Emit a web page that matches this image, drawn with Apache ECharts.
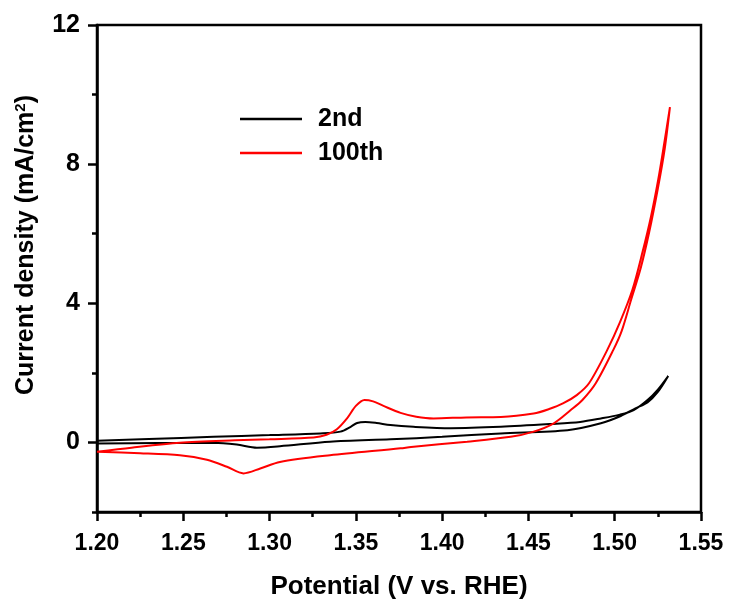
<!DOCTYPE html>
<html>
<head>
<meta charset="utf-8">
<script src="https://cdn.jsdelivr.net/npm/echarts@6/dist/echarts.min.js"></script>
<style>
html,body{margin:0;padding:0;background:#fff;}
#c{width:733px;height:601px;}
</style>
</head>
<body>
<div id="c"></div>
<script>
// ---- data ----
const seriesNames = ['2nd', '100th'];
// 2nd cycle: potential (V vs. RHE) and current density (mA/cm2), forward then return sweep
const pot2nd = [1.200,1.230,1.2675,1.300,1.3294,1.341,1.347,1.3507,1.3555,1.362,1.370,1.3834,1.405,1.434,1.463,1.480,1.492,1.503,1.511,1.519,1.525,1.531,
                1.525,1.519,1.512,1.5035,1.492,1.4726,1.434,1.400,1.370,1.335,1.306,1.2927,1.281,1.2675,1.235,1.200];
const cur2nd = [0.05,0.10,0.16,0.21,0.26,0.31,0.45,0.56,0.59,0.56,0.50,0.45,0.41,0.45,0.53,0.59,0.69,0.80,0.93,1.22,1.52,1.91,
                1.45,1.15,0.98,0.76,0.55,0.35,0.26,0.16,0.09,0.02,-0.11,-0.15,-0.06,-0.01,-0.02,-0.03];
// 100th cycle
const pot100th = [1.200,1.220,1.248,1.280,1.300,1.3255,1.333,1.339,1.345,1.350,1.355,1.360,1.366,1.3759,1.385,1.395,1.414,1.434,1.453,1.462,1.470,1.478,1.4851,1.4957,1.503,1.5102,1.516,1.521,1.5252,1.5287,1.532,
                  1.529,1.525,1.520,1.515,1.5095,1.504,1.4992,1.489,1.4813,1.4745,1.4647,1.453,1.4397,1.4145,1.382,1.3759,1.335,1.306,1.2946,1.2849,1.2753,1.2637,1.248,1.225,1.200];
const cur100th = [-0.27,-0.15,-0.01,0.06,0.09,0.14,0.22,0.38,0.70,1.05,1.22,1.18,1.05,0.85,0.74,0.69,0.72,0.73,0.83,0.96,1.12,1.36,1.70,2.66,3.45,4.38,5.45,6.49,7.55,8.60,9.64,
                  8.45,7.30,6.05,5.00,4.10,3.20,2.66,1.70,1.22,0.93,0.55,0.31,0.16,0.02,-0.13,-0.17,-0.37,-0.56,-0.75,-0.89,-0.70,-0.50,-0.37,-0.31,-0.27];
const xTicks = [1.20,1.25,1.30,1.35,1.40,1.45,1.50,1.55];
const yTickLabels = [0,4,8,12];

const FONT = '"Liberation Sans", Arial, sans-serif';
const zip = (a,b) => a.map((v,i)=>[v,b[i]]);

const chart = echarts.init(document.getElementById('c'), null, {renderer:'canvas'});
chart.setOption({
  animation:false,
  backgroundColor:'#ffffff',
  grid:{left:97,right:32,top:25,bottom:89,containLabel:false,outerBoundsMode:'none',
        show:true,borderColor:'#000',borderWidth:2.5,backgroundColor:'transparent'},
  legend:{
    left:235, top:99, orient:'vertical',
    icon:'rect', itemWidth:62, itemHeight:2.5, itemGap:4,
    data:seriesNames,
    textStyle:{fontFamily:FONT,fontWeight:'bold',fontSize:25,lineHeight:30,color:'#000',padding:[0,0,0,11]}
  },
  xAxis:{
    type:'value', min:1.20, max:1.55, interval:0.05,
    name:'Potential (V vs. RHE)', nameLocation:'middle', nameGap:62,
    nameTextStyle:{fontFamily:FONT,fontWeight:'bold',fontSize:26,color:'#000'},
    axisLine:{onZero:false,lineStyle:{color:'#000',width:2.5}},
    axisTick:{show:true,inside:false,length:9,lineStyle:{color:'#000',width:2.5}},
    minorTick:{show:true,splitNumber:2,length:5,lineStyle:{color:'#000',width:2.5}},
    splitLine:{show:false},
    axisLabel:{fontFamily:FONT,fontWeight:'bold',fontSize:23,color:'#000',margin:20,
      customValues:xTicks, formatter:v=>v.toFixed(2)}
  },
  yAxis:[{
    type:'value', min:-2, max:12, interval:2,
    axisLine:{show:true,onZero:false,lineStyle:{color:'#000',width:2.5}},
    axisTick:{show:true,inside:false,length:5,lineStyle:{color:'#000',width:2.5}},
    splitLine:{show:false},
    axisLabel:{fontFamily:FONT,fontWeight:'bold',fontSize:25,color:'#000',margin:17,
      customValues:yTickLabels, formatter:v=>String(v)}
  },{
    type:'value', min:-2, max:12, interval:2, position:'left',
    axisLine:{show:false},
    axisTick:{show:true,inside:false,length:9,customValues:yTickLabels,lineStyle:{color:'#000',width:2.5}},
    splitLine:{show:false},
    axisLabel:{show:false}
  }],
  graphic:[{
    type:'text', left:13, top:95, rotation:Math.PI/2,
    style:{
      text:'{b|Current density (mA/cm}{s|2}{b|)}',
      rich:{
        b:{fontFamily:FONT,fontWeight:'bold',fontSize:25,fill:'#000'},
        s:{fontFamily:FONT,fontWeight:'bold',fontSize:15,fill:'#000',verticalAlign:'top',padding:[0,0,12,0]}
      }
    }
  }],
  series:[{
    name:seriesNames[0], type:'line', data:zip(pot2nd,cur2nd),
    symbol:'none', smooth:0.3, lineStyle:{color:'#000',width:2}, itemStyle:{color:'#000'}
  },{
    name:seriesNames[1], type:'line', data:zip(pot100th,cur100th),
    symbol:'none', smooth:0.3, lineStyle:{color:'#ff0000',width:2}, itemStyle:{color:'#ff0000'}
  }]
});
</script>
</body>
</html>
